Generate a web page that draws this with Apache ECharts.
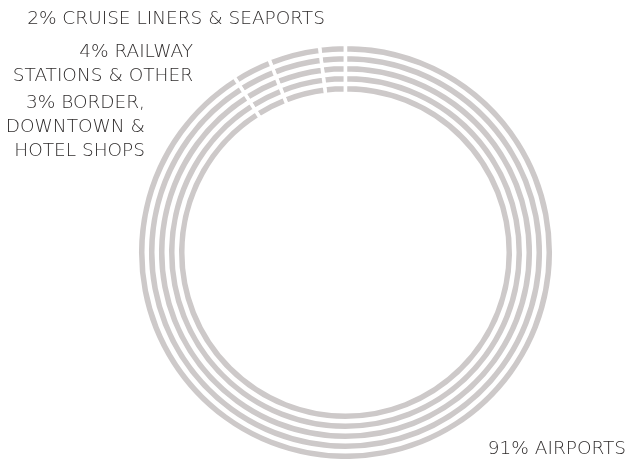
<!DOCTYPE html>
<html>
<head>
<meta charset="utf-8">
<style>
  html, body { margin: 0; padding: 0; background: #ffffff; }
  #chart { width: 629px; height: 459px; }
</style>
<script src="https://cdn.jsdelivr.net/npm/echarts@6/dist/echarts.min.js"></script>
</head>
<body>
<div id="chart"></div>
<script>
// Duty-free sales share by channel (percent)
const channels = ['CRUISE LINERS & SEAPORTS', 'RAILWAY STATIONS & OTHER', 'BORDER, DOWNTOWN & HOTEL SHOPS', 'AIRPORTS'];
const shares = [2, 4, 3, 91];
// Label text lines (value prefix is added from shares)
const labelLines = [
  ['CRUISE LINERS & SEAPORTS'],
  ['RAILWAY', 'STATIONS & OTHER'],
  ['BORDER,', 'DOWNTOWN &', 'HOTEL SHOPS'],
  ['AIRPORTS']
];

const RING_COLOR = '#cdc9c9';
const GAP = 3.5;               // white border that cuts the segments apart
const ringEdges = [            // [inner, outer] visible radius of each ring
  [201, 206.5], [191, 196.5], [181, 186.5], [171, 176.5], [161, 166.5]
];
const labelAnchors = [         // x, y, align for each label block
  [176, 19.5, 'center'],
  [193, 64, 'right'],
  [145, 127.5, 'right'],
  [626, 449.5, 'right']
];

const data = channels.map((c, i) => ({ name: c, value: shares[i] }));

const series = ringEdges.map((edge, k) => ({
  type: 'pie',
  center: [345.5, 252.5],
  radius: [edge[0] - GAP / 2, edge[1] + GAP / 2],
  startAngle: 90,
  clockwise: false,
  silent: true,
  animation: false,
  itemStyle: { color: RING_COLOR, borderColor: '#ffffff', borderWidth: GAP },
  emphasis: { disabled: true },
  label: k === 0 ? {
    show: true,
    position: 'outside',
    alignTo: 'none',
    overflow: 'none',
    color: '#2f2c2c',
    fontFamily: 'DejaVu Sans',
    fontWeight: 300,
    fontSize: 18.5,
    lineHeight: 24,
    formatter: p => {
      const lines = labelLines[p.dataIndex].slice();
      lines[0] = p.value + '% ' + lines[0];
      return lines.join('\n');
    }
  } : { show: false },
  labelLine: { show: false },
  labelLayout: k === 0 ? (p => {
    const a = labelAnchors[p.dataIndex];
    return { x: a[0], y: a[1], align: a[2], verticalAlign: 'middle' };
  }) : undefined,
  data: data
}));

const chart = echarts.init(document.getElementById('chart'), null, { renderer: 'canvas' });
chart.setOption({ backgroundColor: '#ffffff', series: series });
</script>
</body>
</html>
